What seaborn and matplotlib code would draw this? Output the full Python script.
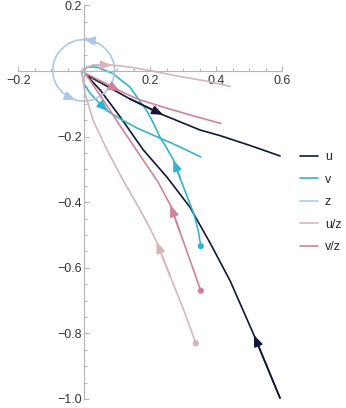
import numpy as np
import pandas as pd
import matplotlib
matplotlib.use("Agg")
import matplotlib.pyplot as plt
from matplotlib.ticker import MultipleLocator, FixedLocator
import seaborn as sns

# curve points (x, y), in drawing order
u_x = [0.593, 0.514, 0.442, 0.381, 0.320, 0.250, 0.179, 0.108, 0.048, 0.005,
       0.057, 0.138, 0.239, 0.351, 0.411, 0.502, 0.593]
u_y = [-0.997, -0.805, -0.640, -0.524, -0.415, -0.323, -0.241, -0.139, -0.058, -0.011,
       -0.040, -0.085, -0.134, -0.180, -0.197, -0.227, -0.259]

v_x = [0.353, 0.345, 0.332, 0.311, 0.290, 0.270, 0.248, 0.229, 0.211, 0.190, 0.138,
       0.087, 0.038, 0.008, -0.007, -0.002, 0.017, 0.045, 0.072, 0.114, 0.160, 0.214,
       0.260, 0.305, 0.353]
v_y = [-0.534, -0.485, -0.436, -0.381, -0.326, -0.271, -0.232, -0.201, -0.162, -0.122, -0.049,
       -0.008, 0.012, 0.012, -0.006, -0.037, -0.067, -0.098, -0.123, -0.149, -0.174, -0.198,
       -0.218, -0.239, -0.262]

z_x = [0.092, 0.089, 0.079, 0.064, 0.045, 0.022, -0.002, -0.026, -0.049, -0.068, -0.083,
       -0.093, -0.096, -0.093, -0.083, -0.068, -0.049, -0.026, -0.002, 0.022, 0.045, 0.064,
       0.079, 0.089, 0.092]
z_y = [0.002, 0.026, 0.049, 0.068, 0.083, 0.093, 0.096, 0.093, 0.083, 0.068, 0.049,
       0.026, 0.002, -0.022, -0.045, -0.064, -0.079, -0.089, -0.092, -0.089, -0.079, -0.064,
       -0.045, -0.022, 0.002]

uz_x = [0.338, 0.299, 0.260, 0.219, 0.199, 0.166, 0.117, 0.069, 0.026, 0.002, -0.005,
        -0.010, -0.001, 0.026, 0.084, 0.138, 0.190, 0.290, 0.366, 0.442]
uz_y = [-0.830, -0.723, -0.625, -0.521, -0.479, -0.418, -0.332, -0.241, -0.149, -0.067, -0.021,
        0.000, 0.009, 0.018, 0.018, 0.012, 0.003, -0.017, -0.030, -0.047]

vz_x = [0.353, 0.320, 0.290, 0.261, 0.223, 0.178, 0.117, 0.057, 0.029, 0.002,
        0.048, 0.108, 0.160, 0.229, 0.320, 0.414]
vz_y = [-0.670, -0.576, -0.491, -0.409, -0.338, -0.271, -0.180, -0.088, -0.046, -0.006,
        -0.030, -0.061, -0.085, -0.107, -0.134, -0.160]

names = ["u", "v", "z", "u/z", "v/z"]
xs = [u_x, v_x, z_x, uz_x, vz_x]
ys = [u_y, v_y, z_y, uz_y, vz_y]

colors = {"u": "#121737", "v": "#34b3cd", "z": "#abc8e8",
          "u/z": "#d5b6ba", "v/z": "#d0819b"}
# index of points where an arrow head sits
arrows = {"u": [1, 12], "v": [5, 18], "z": [6, 17], "u/z": [3, 14], "v/z": [3, 11]}
has_dot = ["v", "u/z", "v/z"]

rows = []
for n, cx, cy in zip(names, xs, ys):
    for i, (a, b) in enumerate(zip(cx, cy)):
        rows.append({"x": a, "y": b, "curve": n, "i": i})
df = pd.DataFrame(rows)

sns.set_theme(style="white")
plt.rcParams["font.family"] = ["Liberation Sans", "DejaVu Sans"]

fig = plt.figure(figsize=(3.46, 4.08), dpi=100)
ax = fig.add_axes([0.0529, 0.0221, 0.763, 0.9647])

sns.lineplot(data=df, x="x", y="y", hue="curve", hue_order=names, palette=colors,
             units="curve", estimator=None, sort=False, linewidth=1.2, ax=ax)

starts = df[(df["i"] == 0) & (df["curve"].isin(has_dot))]
sns.scatterplot(data=starts, x="x", y="y", hue="curve", palette=colors, s=20,
                edgecolor="none", legend=False, ax=ax, zorder=5)

for n, cx, cy in zip(names, xs, ys):
    for k in arrows[n]:
        ax.annotate("", xy=(cx[k], cy[k]), xytext=(cx[k - 1], cy[k - 1]),
                    arrowprops=dict(arrowstyle="-|>,head_length=0.55,head_width=0.22",
                                    color=colors[n], lw=1.2, shrinkA=0, shrinkB=0))

ax.set_xlim(-0.2, 0.6)
ax.set_ylim(-1.0, 0.2)
ax.set_xlabel("")
ax.set_ylabel("")

axis_col = "#b5b5b5"
for s in ["top", "right"]:
    ax.spines[s].set_visible(False)
for s in ["left", "bottom"]:
    ax.spines[s].set_position(("data", 0))
    ax.spines[s].set_color(axis_col)
    ax.spines[s].set_linewidth(0.8)

ax.xaxis.set_major_locator(FixedLocator([-0.2, 0.2, 0.4, 0.6]))
ax.yaxis.set_major_locator(FixedLocator([-1.0, -0.8, -0.6, -0.4, -0.2, 0.2]))
ax.xaxis.set_minor_locator(MultipleLocator(0.05))
ax.yaxis.set_minor_locator(MultipleLocator(0.05))
ax.set_xticklabels(["\u22120.2", "0.2", "0.4", "0.6"])
ax.set_yticklabels(["\u22121.0", "\u22120.8", "\u22120.6", "\u22120.4", "\u22120.2", "0.2"])
ax.tick_params(which="both", direction="in", color=axis_col, width=0.8,
               labelsize=9, labelcolor="#333333")
ax.tick_params(which="major", length=3.5)
ax.tick_params(which="minor", length=2)
ax.tick_params(axis="x", pad=3)
ax.tick_params(axis="y", pad=1.5)
ax.tick_params(left=True, bottom=True, which="both")
ax.patch.set_alpha(0)

ax.legend(loc="upper left", bbox_to_anchor=(0.867, 0.63), bbox_transform=fig.transFigure,
          frameon=False, fontsize=9, handlelength=1.45, labelspacing=0.85,
          borderpad=0, borderaxespad=0, handletextpad=0.55)

fig.savefig("out.png", dpi=100)
